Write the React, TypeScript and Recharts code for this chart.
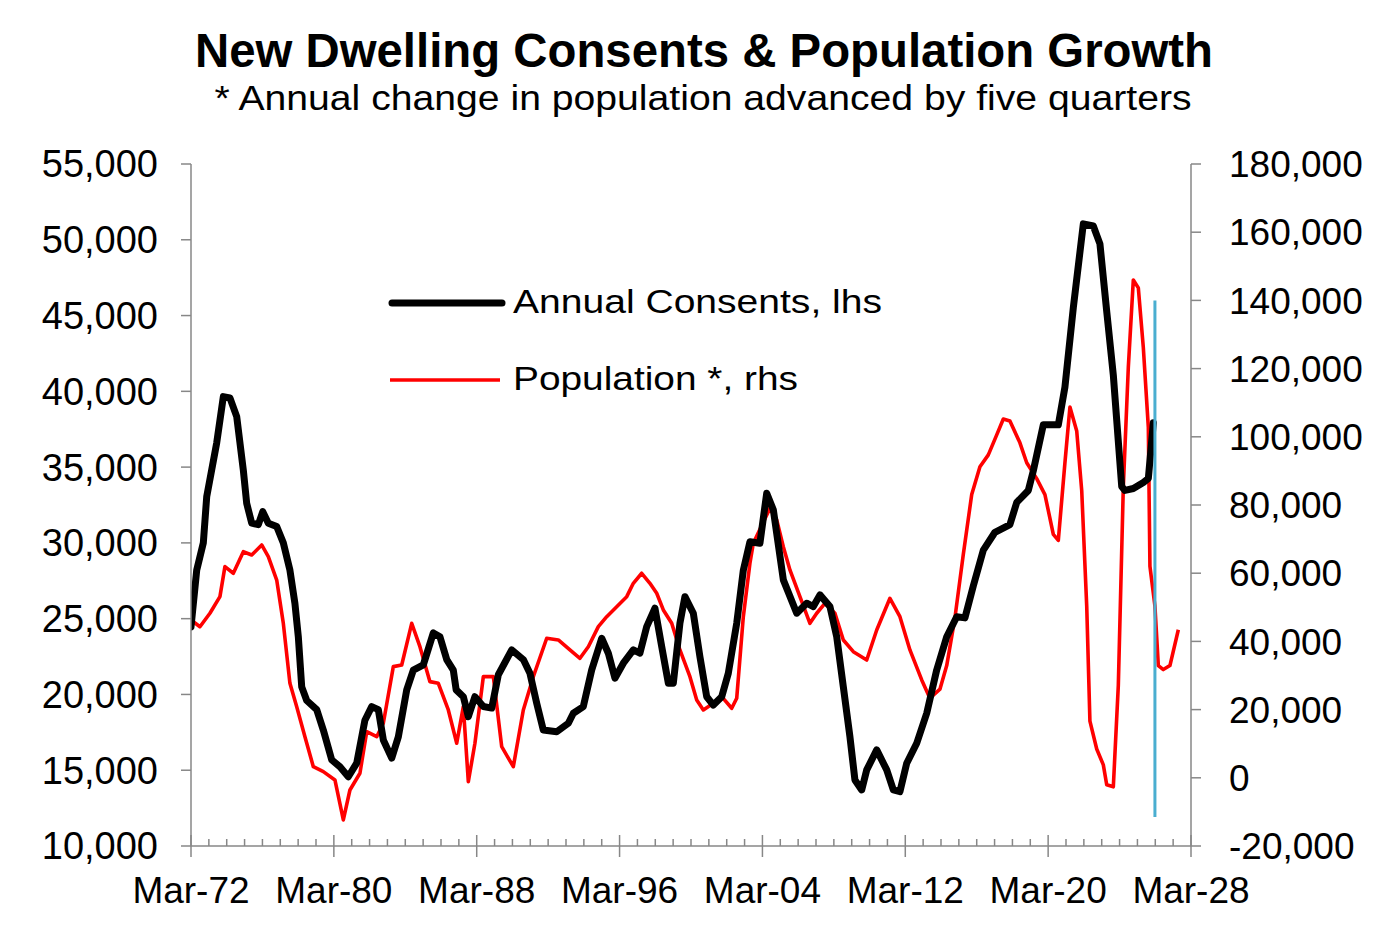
import React from 'react';
import { LineChart, Line, XAxis, YAxis } from 'recharts';

// Annual dwelling consents (lhs), x in decimal years
const consentYears = [
  1972.0, 1972.32, 1972.69, 1972.88, 1973.44, 1973.81, 1974.18, 1974.56, 1974.93, 1975.12,
  1975.4, 1975.77, 1976.02, 1976.33, 1976.8, 1977.17, 1977.54, 1977.82, 1978.01, 1978.2,
  1978.48, 1979.04, 1979.41, 1979.88, 1980.34, 1980.81, 1981.28, 1981.74, 1982.12, 1982.49,
  1982.77, 1983.24, 1983.61, 1984.08, 1984.45, 1985.01, 1985.57, 1985.94, 1986.32, 1986.69,
  1986.85, 1987.25, 1987.53, 1987.9, 1988.37, 1988.84, 1989.21, 1989.96, 1990.61, 1990.98,
  1991.36, 1991.73, 1992.48, 1993.13, 1993.41, 1993.97, 1994.44, 1995.0, 1995.37, 1995.74,
  1996.21, 1996.77, 1997.14, 1997.52, 1997.98, 1998.36, 1998.73, 1999.01, 1999.38, 1999.66,
  2000.13, 2000.5, 2000.88, 2001.25, 2001.72, 2002.09, 2002.56, 2002.93, 2003.3, 2003.86,
  2004.24, 2004.61, 2005.17, 2005.92, 2006.48, 2006.85, 2007.22, 2007.78, 2008.16, 2008.53,
  2008.9, 2009.18, 2009.56, 2009.84, 2010.4, 2010.96, 2011.33, 2011.7, 2012.08, 2012.64,
  2013.2, 2013.76, 2014.32, 2014.88, 2015.34, 2015.81, 2016.37, 2017.02, 2017.86, 2018.24,
  2018.89, 2019.17, 2019.73, 2020.57, 2020.94, 2021.41, 2021.97, 2022.53, 2022.9, 2023.28,
  2023.65, 2024.12, 2024.3, 2024.77, 2025.33, 2025.61, 2025.89,
];
const consentValues = [
  24450, 28200, 30000, 33050, 36600, 39650, 39570, 38330, 34800, 32600,
  31300, 31200, 32060, 31300, 31080, 30000, 28200, 26000, 23800, 20500,
  19600, 19000, 17650, 15680, 15230, 14570, 15470, 18300, 19200, 19000,
  17000, 15800, 17200, 20300, 21600, 21950, 24060, 23800, 22300, 21600,
  20300, 19850, 18540, 19850, 19200, 19100, 21300, 22940, 22300, 21400,
  19420, 17650, 17540, 18100, 18760, 19200, 21620, 23710, 22720, 21070,
  22060, 22940, 22720, 24470, 25690, 23150, 20740, 20740, 24700, 26450,
  25360, 22490, 19850, 19300, 19850, 21400, 24700, 28200, 30080, 29980,
  33280, 32180, 27560, 25360, 26020, 25800, 26570, 25800, 23810, 20510,
  17210, 14360, 13700, 15020, 16340, 15020, 13700, 13590, 15460, 16780,
  18760, 21620, 23810, 25130, 25050, 27160, 29520, 30700, 31210, 32670,
  33460, 34760, 37790, 37790, 40280, 45530, 51050, 50910, 49730, 45270,
  41070, 33720, 33460, 33590, 33990, 34250, 37920,
];

// Annual change in population advanced by five quarters (rhs)
const popYears = [
  1972.0, 1972.5, 1973.06, 1973.62, 1973.9, 1974.37, 1974.93, 1975.4, 1975.96, 1976.33,
  1976.8, 1977.17, 1977.54, 1977.92, 1978.38, 1978.85, 1979.41, 1980.06, 1980.53, 1980.9,
  1981.46, 1981.84, 1982.4, 1982.77, 1983.33, 1983.8, 1984.36, 1984.82, 1985.38, 1985.85,
  1986.41, 1986.88, 1987.25, 1987.53, 1987.9, 1988.37, 1988.93, 1989.4, 1990.05, 1990.61,
  1991.17, 1991.92, 1992.57, 1993.22, 1993.78, 1994.25, 1994.81, 1995.28, 1995.84, 1996.4,
  1996.77, 1997.24, 1997.7, 1998.08, 1998.45, 1998.92, 1999.38, 1999.94, 2000.32, 2000.69,
  2001.25, 2001.72, 2002.28, 2002.56, 2002.93, 2003.3, 2003.49, 2004.42, 2004.8, 2005.17,
  2005.54, 2006.1, 2006.66, 2007.04, 2007.5, 2008.06, 2008.53, 2009.09, 2009.84, 2010.4,
  2011.14, 2011.7, 2012.26, 2012.92, 2013.38, 2013.94, 2014.32, 2014.78, 2015.25, 2015.72,
  2016.18, 2016.65, 2017.12, 2017.49, 2017.86, 2018.42, 2018.8, 2019.36, 2019.82, 2020.29,
  2020.57, 2020.94, 2021.22, 2021.6, 2021.88, 2022.16, 2022.34, 2022.72, 2023.09, 2023.28,
  2023.65, 2023.93, 2024.21, 2024.49, 2024.77, 2025.05, 2025.33, 2025.61, 2025.7, 2025.98,
  2026.17, 2026.45, 2026.82, 2027.29,
];
const popValues = [
  46300, 44300, 48250, 53130, 61930, 59980, 66300, 65350, 68280, 64850,
  58000, 45300, 27700, 20860, 12060, 3260, 1820, -640, -12370, -3580,
  1320, 13520, 12060, 16000, 32600, 33090, 45300, 38450, 28200, 27700,
  19900, 10120, 20860, -1140, 10120, 29660, 29660, 9120, 3260, 19900,
  29660, 40920, 40420, 37490, 35050, 38450, 44320, 47250, 50190, 53120,
  57040, 59980, 57040, 54110, 49220, 45300, 37490, 29660, 22820, 19900,
  21860, 23790, 20390, 23330, 47250, 62900, 68780, 79050, 75620, 67790,
  60950, 53120, 45300, 48250, 51180, 48250, 40420, 36990, 34550, 43350,
  52640, 47250, 37490, 28690, 23320, 26000, 32910, 46900, 65580, 83060,
  91220, 94710, 100550, 105210, 104630, 98230, 92390, 87730, 83060, 71390,
  69630, 92390, 108720, 101720, 84240, 50410, 16600, 8450, 3790, -2050,
  -2640, 27100, 85400, 120400, 146000, 143660, 126180, 102860, 62040, 50360,
  32910, 31740, 32910, 43410,
];

// "Latest data" marker (rhs scale)
const markerYears = [2025.98, 2025.98];
const markerValues = [-11500, 140000];

const majorTickYears = [1972, 1980, 1988, 1996, 2004, 2012, 2020, 2028];
const leftTicks = [10000, 15000, 20000, 25000, 30000, 35000, 40000, 45000, 50000, 55000];
const rightTicks = [-20000, 0, 20000, 40000, 60000, 80000, 100000, 120000, 140000, 160000, 180000];

const consentData = consentYears.map((x, i) => ({ x, v: consentValues[i] }));
const popData = popYears.map((x, i) => ({ x, v: popValues[i] }));
const markerData = markerYears.map((x, i) => ({ x, v: markerValues[i] }));
const yearTicks: number[] = [];
for (let y = majorTickYears[0]; y <= majorTickYears[majorTickYears.length - 1]; y++) yearTicks.push(y);

const FONT = '"Liberation Sans", Arial, Helvetica, sans-serif';
const AXIS = '#878787';

const fmt = (v: number) => v.toLocaleString('en-US');

const XTick = (props: any) => {
  const { x, y, payload } = props;
  const yr = payload.value as number;
  const major = majorTickYears.includes(yr);
  const label = 'Mar-' + String(yr % 100).padStart(2, '0');
  return (
    <g>
      {major ? (
        <line x1={x} x2={x} y1={y - 11} y2={y + 11} stroke={AXIS} strokeWidth={1.5} />
      ) : (
        <line x1={x} x2={x} y1={y - 7} y2={y} stroke={AXIS} strokeWidth={1.5} />
      )}
      {major && (
        <text x={x} y={y + 57} textAnchor="middle" fontSize={37} fill="#000" fontFamily={FONT}>
          {label}
        </text>
      )}
    </g>
  );
};

export default function App() {
  return (
    <div style={{ position: 'relative', width: 1384, height: 911, fontFamily: FONT, background: '#fff' }}>
      <LineChart width={1384} height={911} margin={{ top: 156, right: 31, bottom: 13, left: 83 }}>
        <XAxis
          xAxisId={0}
          type="number"
          dataKey="x"
          domain={[1972, 2028]}
          ticks={yearTicks}
          interval={0}
          allowDataOverflow
          height={60}
          tickLine={false}
          tickSize={0}
          tickMargin={0}
          axisLine={{ stroke: AXIS, strokeWidth: 1.5 }}
          tick={<XTick />}
        />
        <YAxis
          yAxisId="left"
          orientation="left"
          width={100}
          domain={[10000, 55000]}
          ticks={leftTicks}
          interval={0}
          allowDataOverflow
          tickFormatter={fmt}
          tickSize={10}
          tickMargin={23}
          tickLine={{ stroke: AXIS, strokeWidth: 1.5 }}
          axisLine={{ stroke: AXIS, strokeWidth: 1.5 }}
          tick={{ fontSize: 38, fill: '#000', fontFamily: FONT }}
        />
        <YAxis
          yAxisId="right"
          orientation="right"
          width={170}
          domain={[-20000, 180000]}
          ticks={rightTicks}
          interval={0}
          allowDataOverflow
          tickFormatter={fmt}
          tickSize={10}
          tickMargin={28}
          tickLine={{ stroke: AXIS, strokeWidth: 1.5 }}
          axisLine={{ stroke: AXIS, strokeWidth: 1.5 }}
          tick={{ fontSize: 37, fill: '#000', fontFamily: FONT }}
        />
        <Line
          yAxisId="right"
          data={popData}
          dataKey="v"
          type="linear"
          stroke="#ff0000"
          strokeWidth={3.6}
          dot={false}
          isAnimationActive={false}
          strokeLinejoin="round"
        />
        <Line
          yAxisId="left"
          data={consentData}
          dataKey="v"
          type="linear"
          stroke="#000000"
          strokeWidth={7}
          dot={false}
          isAnimationActive={false}
          strokeLinejoin="round"
          strokeLinecap="round"
        />
        <Line
          yAxisId="right"
          data={markerData}
          dataKey="v"
          type="linear"
          stroke="#4aaed0"
          strokeWidth={3}
          dot={false}
          isAnimationActive={false}
        />
      </LineChart>
      <svg
        width={1384}
        height={911}
        style={{ position: 'absolute', left: 0, top: 0, pointerEvents: 'none' }}
      >
        <text
          x={696}
          y={59}
          textAnchor="middle"
          fontSize={48}
          fontWeight="bold"
          fontFamily={FONT}
          fill="#000"
          textLength={1018}
          lengthAdjust="spacingAndGlyphs"
        >
          New Dwelling Consents &amp; Population Growth
        </text>
        <text
          x={695}
          y={102}
          textAnchor="middle"
          fontSize={35}
          fontFamily={FONT}
          fill="#000"
          textLength={977}
          lengthAdjust="spacingAndGlyphs"
        >
          * Annual change in population advanced by five quarters
        </text>
        <line x1={384} x2={494} y1={295} y2={295} stroke="#000" strokeWidth={7} strokeLinecap="round" />
        <text
          x={505}
          y={305}
          fontSize={34}
          fontFamily={FONT}
          fill="#000"
          textLength={369}
          lengthAdjust="spacingAndGlyphs"
        >
          Annual Consents, lhs
        </text>
        <line x1={382} x2={492} y1={372} y2={372} stroke="#ff0000" strokeWidth={3.6} />
        <text
          x={505}
          y={382}
          fontSize={34}
          fontFamily={FONT}
          fill="#000"
          textLength={285}
          lengthAdjust="spacingAndGlyphs"
        >
          Population *, rhs
        </text>
      </svg>
    </div>
  );
}
